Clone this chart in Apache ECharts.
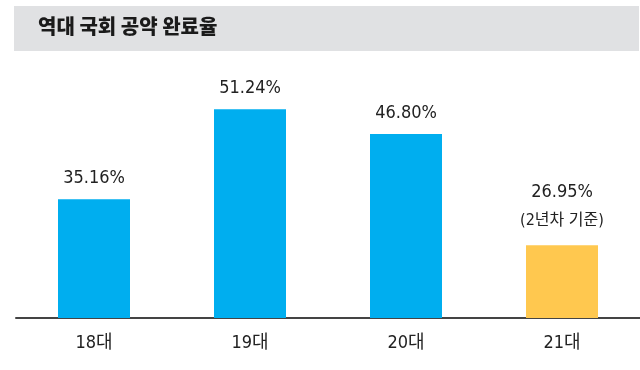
<!DOCTYPE html>
<html><head><meta charset="utf-8">
<script src="https://cdn.jsdelivr.net/npm/echarts@6/dist/echarts.min.js"></script>
<style>html,body{margin:0;padding:0;background:#fff}#c{width:640px;height:370px}</style>
</head><body><div id="c"></div>
<script>
const title = '역대 국회 공약 완료율';
const categories = ['18대', '19대', '20대', '21대'];
const values = [35.16, 51.24, 46.80, 26.95];
const notes = ['', '', '', '(2년차 기준)'];

const FONT = "'DejaVu Sans Condensed','Noto Sans CJK KR',sans-serif";
const chart = echarts.init(document.getElementById('c'), null, {renderer: 'canvas'});
const data = values.map((v, i) => {
  const last = i === values.length - 1;
  return {
    value: v,
    itemStyle: {color: last ? '#FFC84F' : '#00AEEF'},
    label: notes[i] ? {
      formatter: '{a|' + v.toFixed(2) + '%}\n{b|' + notes[i] + '}',
      distance: 11,
      rich: {
        a: {fontSize: 18, lineHeight: 28, color: '#222', fontFamily: FONT},
        b: {fontSize: 16, lineHeight: 28, color: '#222', fontFamily: FONT}
      }
    } : {formatter: v.toFixed(2) + '%'}
  };
});
chart.setOption({
  animation: false,
  graphic: [
    {type: 'rect', shape: {x: 14, y: 6, width: 625, height: 45}, style: {fill: '#E0E1E3'}},
    {type: 'text', left: 38, top: 16, style: {text: title, font: "900 20px 'Noto Sans CJK KR', sans-serif", fill: '#1a1a1a'}}
  ],
  grid: {left: 16, width: 627, top: 60, bottom: 52},
  xAxis: {
    type: 'category', data: categories,
    axisLine: {lineStyle: {color: '#444', width: 2}},
    axisTick: {show: false},
    axisLabel: {fontSize: 18, color: '#222', fontFamily: FONT, margin: 16}
  },
  yAxis: {type: 'value', min: 14, max: 60, show: false, splitLine: {show: false}},
  series: [{
    type: 'bar', data: data, barWidth: 72,
    label: {show: true, position: 'top', distance: 12, fontSize: 18, color: '#222', fontFamily: FONT}
  }]
});
</script></body></html>
